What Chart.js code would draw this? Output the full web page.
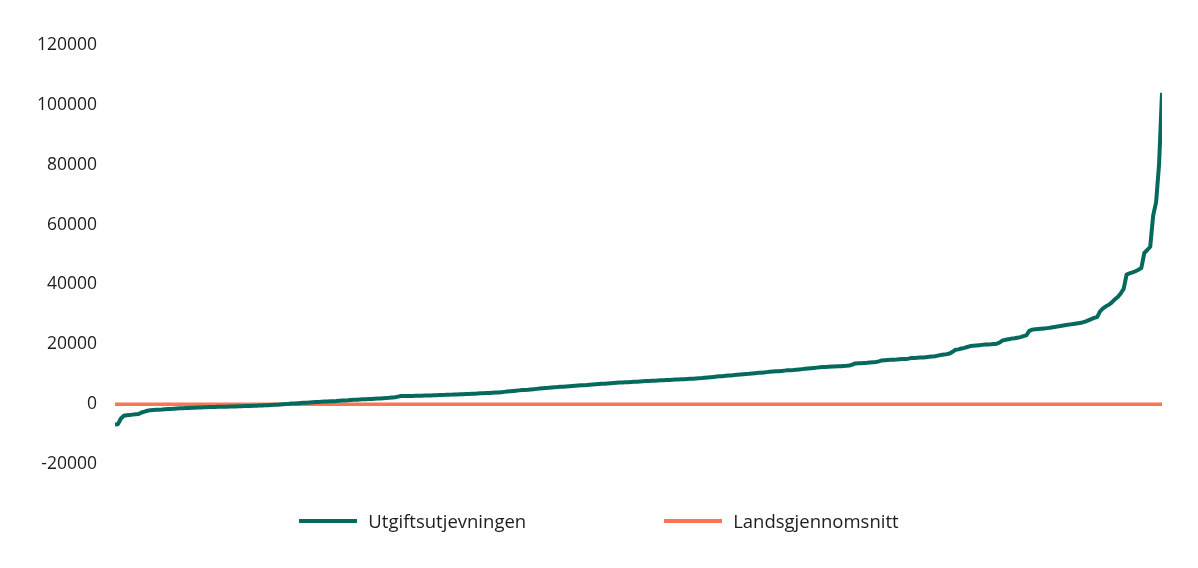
<!DOCTYPE html>
<html lang="no">
<head>
<meta charset="utf-8">
<title>Utgiftsutjevningen</title>
<script src="https://cdn.jsdelivr.net/npm/chart.js@4/dist/chart.umd.min.js"></script>
<style>
  body { margin: 0; background: #fff; }
  #wrap { position: relative; width: 1198px; height: 568px; }
  #legend {
    position: absolute; left: 0; top: 508px; width: 1198px;
    display: flex; justify-content: center; gap: 138px;
    font-family: 'Open Sans', sans-serif; font-size: 18.5px; line-height: 26px; color: #1d1d1b;
  }
  #legend .item { display: flex; align-items: center; }
  #legend .swatch { width: 58px; height: 4px; margin-right: 11px; }
</style>
</head>
<body>
<div id="wrap">
  <canvas id="myChart"></canvas>
  <div id="legend"></div>
</div>
<script>
// kommunene sortert etter utgiftsutjevning (kr per innbygger)
let utgiftsutjevningen = [
  -6800, -6700, -4800, -3900, -3700, -3600, -3500, -3400, -3300, -2800,
  -2500, -2200, -2000, -1950, -1900, -1850, -1800, -1700, -1650, -1600,
  -1500, -1450, -1400, -1350, -1300, -1250, -1200, -1170, -1140, -1100,
  -1050, -1000, -980, -950, -920, -900, -870, -850, -830, -820,
  -800, -770, -740, -700, -660, -620, -580, -550, -520, -480,
  -440, -400, -350, -300, -240, -180, -100, -20, 50, 100,
  180, 240, 300, 370, 430, 500, 560, 620, 680, 740,
  800, 850, 900, 950, 1000, 1050, 1150, 1200, 1250, 1300,
  1400, 1450, 1500, 1550, 1600, 1650, 1700, 1750, 1800, 1850,
  1900, 2000, 2050, 2100, 2200, 2300, 2500, 2700, 2750, 2750,
  2750, 2760, 2780, 2800, 2820, 2850, 2880, 2900, 2950, 3000,
  3050, 3080, 3100, 3150, 3180, 3220, 3250, 3300, 3330, 3370,
  3400, 3450, 3500, 3550, 3600, 3650, 3700, 3750, 3800, 3850,
  3900, 4000, 4100, 4200, 4300, 4400, 4500, 4600, 4700, 4750,
  4800, 4900, 5000, 5100, 5200, 5300, 5400, 5450, 5550, 5650,
  5700, 5780, 5850, 5920, 6000, 6080, 6150, 6220, 6300, 6350,
  6400, 6480, 6550, 6620, 6700, 6780, 6850, 6920, 7000, 7080,
  7150, 7200, 7250, 7300, 7350, 7400, 7450, 7500, 7600, 7650,
  7700, 7750, 7800, 7850, 7900, 7950, 8000, 8050, 8100, 8150,
  8200, 8250, 8300, 8350, 8400, 8450, 8500, 8600, 8650, 8700,
  8800, 8900, 9000, 9100, 9200, 9300, 9350, 9450, 9550, 9600,
  9700, 9800, 9900, 10000, 10100, 10150, 10250, 10350, 10450, 10500,
  10600, 10700, 10800, 10900, 10950, 11000, 11100, 11200, 11300, 11350,
  11400, 11500, 11600, 11700, 11800, 11900, 12000, 12100, 12200, 12300,
  12400, 12450, 12500, 12550, 12600, 12650, 12700, 12750, 12800, 12900,
  13200, 13600, 13650, 13700, 13750, 13800, 13900, 14000, 14100, 14300,
  14600, 14700, 14750, 14800, 14850, 14900, 15000, 15050, 15100, 15200,
  15400, 15450, 15500, 15550, 15600, 15700, 15800, 15900, 16000, 16200,
  16400, 16600, 16700, 16900, 17500, 18200, 18300, 18600, 18800, 19100,
  19400, 19500, 19600, 19700, 19800, 19900, 19950, 20000, 20100, 20200,
  20600, 21300, 21500, 21700, 21900, 22000, 22200, 22400, 22700, 23000,
  24500, 24900, 25000, 25100, 25200, 25300, 25400, 25500, 25700, 25850,
  26000, 26200, 26350, 26500, 26650, 26800, 26950, 27100, 27300, 27600,
  28000, 28400, 28800, 29100, 31000, 32000, 32700, 33200, 34000, 35000,
  35800, 37000, 38500, 43300, 43700, 44000, 44400, 44900, 45500, 50500,
  51500, 52600, 63000, 67500, 80000, 104000
];
let landsgjennomsnitt = 0;
let yTicks = [-20000, 0, 20000, 40000, 60000, 80000, 100000, 120000];
let names = ['Utgiftsutjevningen', 'Landsgjennomsnitt'];
let colors = ['#05695d', '#fd7453'];

// kommune nr 1..n langs x-aksen
let kommuner = utgiftsutjevningen.map((v, i) => i + 1);

const textColor = '#1d1d1b';
Chart.defaults.font.family = "'Open Sans', sans-serif";
Chart.defaults.font.size = 17.5;
Chart.defaults.color = textColor;

// legend som html under grafen
const htmlLegend = {
  id: 'htmlLegend',
  afterUpdate(chart) {
    const box = document.getElementById('legend');
    box.innerHTML = '';
    const items = chart.options.plugins.legend.labels.generateLabels(chart);
    items.forEach(item => {
      const el = document.createElement('div');
      el.className = 'item';
      const sw = document.createElement('span');
      sw.className = 'swatch';
      sw.style.background = item.strokeStyle;
      const txt = document.createElement('span');
      txt.textContent = item.text;
      el.appendChild(sw);
      el.appendChild(txt);
      box.appendChild(el);
    });
  }
};

let ctx = document.getElementById('myChart').getContext('2d');
let chart = new Chart(ctx, {
  type: 'line',
  data: {
    datasets: [{
      label: names[0],
      data: utgiftsutjevningen.map((v, i) => ({x: kommuner[i], y: v})),
      borderColor: colors[0],
      backgroundColor: colors[0],
      borderWidth: 4,
      borderJoinStyle: 'round',
      pointRadius: 0,
      tension: 0
    },
    {
      label: names[1],
      data: [
        {x: kommuner[0], y: landsgjennomsnitt},
        {x: kommuner[kommuner.length - 1], y: landsgjennomsnitt}
      ],
      borderColor: colors[1],
      backgroundColor: colors[1],
      borderWidth: 3.5,
      pointRadius: 0,
      tension: 0
    }]
  },
  options: {
    responsive: true,
    maintainAspectRatio: false,
    animation: false,
    layout: { padding: { left: 0, right: 36, top: 45, bottom: 104 } },
    plugins: {
      legend: { display: false },
      tooltip: { enabled: false }
    },
    scales: {
      x: {
        type: 'linear',
        display: false,
        min: kommuner[0],
        max: kommuner[kommuner.length - 1]
      },
      y: {
        min: yTicks[0],
        max: yTicks[yTicks.length - 1],
        border: { display: false },
        grid: { display: false, drawTicks: false },
        ticks: {
          padding: 18,
          callback: v => String(v)
        },
        afterBuildTicks: scale => { scale.ticks = yTicks.map(v => ({value: v})); },
        afterFit: scale => { scale.width = 115; }
      }
    }
  },
  plugins: [htmlLegend]
});
</script>
</body>
</html>
